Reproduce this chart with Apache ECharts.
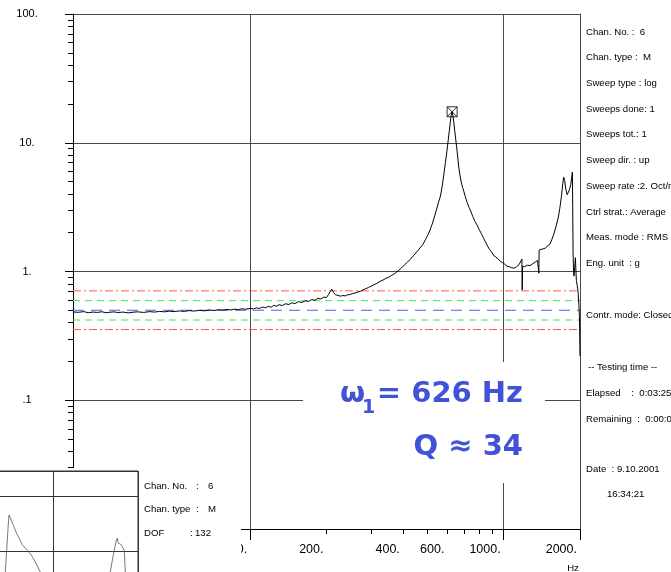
<!DOCTYPE html>
<html>
<head>
<meta charset="utf-8">
<script src="https://cdn.jsdelivr.net/npm/echarts@6/dist/echarts.min.js"></script>
<style>html,body{margin:0;padding:0;background:#fff;}#chart{width:671px;height:572px;}</style>
</head>
<body>
<div id="chart"></div>
<script>
// ---------------- data ----------------
const FREQ_HZ = [20,21,22,23,24,25,26,27,28,29,30,31.5,33,34.5,36,38,40,42,44,46,48,50,52.5,55,57.5,60,63,66,69,72,75,78,81,84,87,90,93,96,100,103,106,109,112,115,118,121,124,127,130,134,138,142,146,150,155,160,165,170,175,180,185,190,195,200,204,207,210,213,217,222,227,232,237,242,248,254,260,266,272,279,286,293,300,308,316,325,334,343,352,362,372,383,394,405,417,429,441,454,467,480,492,503,514,524,534,544,553,563,572,580,589,597,604,610,616,621,626,631,636,641,646,652,658,664,672,680,688,696,706,718,730,741,755,770,785,800,815,830,847,863,880,896,913,930,950,970,990,1010,1030,1050,1075,1100,1125,1150,1170,1180,1183,1188,1210,1240,1270,1300,1330,1360,1372,1376,1380,1400,1430,1460,1490,1520,1550,1580,1610,1640,1665,1690,1710,1725,1740,1760,1780,1800,1820,1840,1855,1866,1872,1878,1884,1892,1900,1910,1918,1926,1935,1950,1965,1980,1990,2000];
const RESPONSE_G = [0.485,0.482,0.488,0.479,0.484,0.481,0.487,0.478,0.483,0.486,0.480,0.484,0.477,0.483,0.486,0.481,0.488,0.484,0.490,0.486,0.492,0.488,0.494,0.490,0.497,0.493,0.499,0.495,0.502,0.498,0.505,0.501,0.507,0.503,0.510,0.506,0.513,0.509,0.517,0.512,0.522,0.516,0.530,0.522,0.536,0.528,0.546,0.537,0.552,0.544,0.562,0.553,0.572,0.563,0.583,0.575,0.594,0.585,0.606,0.597,0.619,0.612,0.632,0.628,0.665,0.700,0.728,0.690,0.660,0.652,0.643,0.651,0.646,0.659,0.662,0.676,0.681,0.694,0.700,0.722,0.735,0.752,0.768,0.790,0.808,0.838,0.858,0.885,0.902,0.935,0.965,1.01,1.06,1.12,1.18,1.25,1.33,1.42,1.52,1.62,1.78,1.93,2.14,2.38,2.70,3.05,3.45,3.85,4.60,5.60,7.0,8.6,10.4,12.3,14.6,16.4,17.4,16.2,14.3,12.4,10.9,9.3,7.9,6.6,5.6,4.95,4.50,4.20,3.80,3.42,3.15,2.95,2.68,2.45,2.30,2.12,1.98,1.84,1.70,1.58,1.48,1.42,1.33,1.30,1.25,1.20,1.17,1.14,1.10,1.09,1.07,1.06,1.09,1.13,1.17,1.25,0.72,1.10,1.09,1.12,1.11,1.15,1.18,1.22,1.22,0.97,1.47,1.46,1.50,1.52,1.58,1.62,1.78,1.98,2.25,2.60,3.10,3.85,4.80,5.40,5.10,4.30,3.95,4.05,4.35,4.75,5.40,5.90,3.20,1.40,1.08,0.92,0.98,1.15,1.28,1.05,0.85,0.78,0.70,0.55,0.45,0.22];
const PEAK_FREQ_HZ = [626];
const PEAK_G = [17.4];
// abort +, alarm +, reference, alarm -, abort -
const LIMIT_LEVELS = [0.707, 0.594, 0.5, 0.42, 0.354];
const X_RANGE = [20, 2000];
const Y_RANGE = [0.01, 100];
const X_LABEL_VALUES = [100, 200, 400, 600, 1000, 2000];
const X_LABELS = ['100.', '200.', '400.', '600.', '1000.', '2000.'];
const X_MAJOR_TICKS = [100, 1000, 2000];
const X_MINOR_TICKS = [30,40,50,60,70,80,90,200,300,400,500,600,700,800,900];
const Y_LABEL_VALUES = [0.01, 0.1, 1, 10, 100];
const Y_LABELS = ['.01', '.1', '1.', '10.', '100.'];
const Y_MINOR_TICKS = [0.02,0.03,0.04,0.05,0.06,0.07,0.08,0.09,0.2,0.3,0.4,0.5,0.6,0.7,0.8,0.9,2,3,4,5,6,7,8,9,20,30,40,50,60,70,80,90];
// small inset plot (bottom-left)
const INSET_X = [0.40,0.439,0.470,0.482,0.498,0.533,0.556,0.580,0.603,0.639,0.674,0.698,0.745,0.792,0.851,0.91,1.2,1.5,1.651,1.674,1.709,1.745,1.756,1.765,1.78,1.803,1.839,1.85,1.856];
const INSET_Y = [0,6.22,14,16.65,16.1,14.8,13.9,13.0,12.4,11.2,10.6,10.2,9.3,8.05,6.22,3.8,1,1,3.8,6.22,9.3,12.0,12.4,11.6,11.9,11.2,10.1,6.22,1.1];
const INSET_X_RANGE = [0, 2];
const INSET_Y_RANGE = [0, 24.7];
const PANEL_LINES = ['Chan. No. :  6', 'Chan. type :  M', 'Sweep type : log', 'Sweeps done: 1', 'Sweeps tot.: 1', 'Sweep dir. : up', 'Sweep rate :2. Oct/min', 'Ctrl strat.: Average', 'Meas. mode : RMS', 'Eng. unit  : g'];
const PANEL_MODE = 'Contr. mode: Closed loop';
const PANEL_TIME = ['-- Testing time --', 'Elapsed    :  0:03:25', 'Remaining  :  0:00:00'];
const PANEL_DATE = ['Date  : 9.10.2001', '16:34:21'];
const INSET_INFO = [['Chan. No.', ':', '6'], ['Chan. type', ':', 'M'], ['DOF', ':', '132']];
const RESULT_FREQ = '= 626 Hz';
const RESULT_Q = 'Q \u2248 34';

// ---------------- chart ----------------
const LG = Math.log10;
const SANS = '"Liberation Sans", Arial, sans-serif';
const SMALL = '9.6px ' + SANS;
const chart = echarts.init(document.getElementById('chart'), null, {renderer: 'canvas'});

const limitStyles = [
  {color: '#ff5a3c', type: [8, 3, 2, 3]},
  {color: '#4ee04e', type: [7, 5]},
  {color: '#4763e6', type: [11, 7]},
  {color: '#4ee04e', type: [7, 5]},
  {color: '#ff5a3c', type: [8, 3, 2, 3]}
];

function nearestLabel(values, labels, v) {
  let best = 0, bd = Infinity;
  values.forEach((t, i) => { const d = Math.abs(LG(t) - v); if (d < bd) { bd = d; best = i; } });
  return labels[best];
}

const hidden = {show: false};
const noLine = {show: false, onZero: false};
function txt(x, y, text, extra) {
  return Object.assign({type: 'text', z: 70, silent: true, x: x, y: y,
    style: Object.assign({text: text, font: SMALL, fill: '#000', textAlign: 'left', textVerticalAlign: 'middle', verticalAlign: 'middle'}, extra || {})});
}
const graphics = [];
// white panels covering parts of the main plot
graphics.push({type: 'rect', z: 50, silent: true, shape: {x: 0, y: 468, width: 241, height: 104}, style: {fill: '#fff'}});
graphics.push({type: 'rect', z: 50, silent: true, shape: {x: 303, y: 362, width: 242, height: 121}, style: {fill: '#fff'}});
// right info panel
PANEL_LINES.forEach((t, i) => graphics.push(txt(586, 32 + i * 25.7, t)));
graphics.push(txt(586, 315, PANEL_MODE));
PANEL_TIME.forEach((t, i) => graphics.push(txt(i === 0 ? 588 : 586, 367 + i * 26, t)));
graphics.push(txt(586, 469, PANEL_DATE[0]));
graphics.push(txt(607, 494, PANEL_DATE[1]));
// inset info
INSET_INFO.forEach((row, i) => {
  const y = 486 + i * 23.5;
  graphics.push(txt(144, y, row[0]));
  graphics.push(txt(i === 2 ? 190 : 196, y, row[1]));
  graphics.push(txt(i === 2 ? 195 : 208, y, row[2]));
});
// Hz unit
graphics.push(txt(573, 568, 'Hz', {textAlign: 'center'}));
// big result text
const BIG = 'bold 29px "DejaVu Sans", sans-serif';
const BLUE = '#4152d6';
graphics.push(txt(340, 394, '\u03c9', {font: BIG, fill: BLUE}));
graphics.push(txt(362, 408, '1', {font: 'bold 19px "DejaVu Sans", sans-serif', fill: BLUE}));
graphics.push(txt(523, 394, RESULT_FREQ, {font: BIG, fill: BLUE, textAlign: 'right'}));
graphics.push(txt(523, 447, RESULT_Q, {font: BIG, fill: BLUE, textAlign: 'right'}));

const series = [];
LIMIT_LEVELS.forEach((lvl, i) => series.push({
  type: 'line', xAxisIndex: 0, yAxisIndex: 0, silent: true, symbol: 'none', z: 2,
  data: [[X_RANGE[0], lvl], [X_RANGE[1], lvl]],
  lineStyle: {color: limitStyles[i].color, type: limitStyles[i].type, width: 1}
}));
series.push({
  type: 'line', xAxisIndex: 0, yAxisIndex: 0, silent: true, symbol: 'none', z: 4,
  data: FREQ_HZ.map((f, i) => [f, RESPONSE_G[i]]),
  lineStyle: {color: '#000', width: 1}
});
series.push({
  type: 'scatter', xAxisIndex: 0, yAxisIndex: 0, silent: true, z: 5,
  symbol: 'path://M0 0H10V10H0Z M0 0L10 10 M10 0L0 10', symbolSize: 10,
  itemStyle: {color: 'rgba(0,0,0,0)', borderColor: '#000', borderWidth: 1},
  data: PEAK_FREQ_HZ.map((f, i) => [f, PEAK_G[i]])
});
series.push({
  type: 'line', xAxisIndex: 3, yAxisIndex: 4, silent: true, symbol: 'none', z: 61,
  data: INSET_X.map((x, i) => [x, INSET_Y[i]]),
  lineStyle: {color: '#555', width: 0.8}
});

const option = {
  animation: false,
  backgroundColor: '#fff',
  grid: [
    {left: 73, top: 14, width: 507, height: 515, containLabel: false, outerBoundsMode: 'none'},
    {left: -32, top: 471, width: 170, height: 135, containLabel: false, outerBoundsMode: 'none', show: true, borderColor: '#333', borderWidth: 1, backgroundColor: 'transparent', z: 60}
  ],
  xAxis: [
    {type: 'log', logBase: 10, gridIndex: 0, position: 'bottom', min: X_RANGE[0], max: X_RANGE[1],
      axisLine: {show: true, onZero: false, lineStyle: {color: '#000', width: 1}}, axisTick: hidden, axisLabel: hidden,
      splitLine: {show: true, lineStyle: {color: '#4a4a4a', width: 1}}},
    {type: 'value', gridIndex: 0, position: 'bottom', offset: 0, min: LG(X_RANGE[0]), max: LG(X_RANGE[1]),
      axisLine: noLine, splitLine: hidden, axisLabel: hidden,
      axisTick: {show: true, length: 11, customValues: X_MAJOR_TICKS.map(LG), lineStyle: {color: '#000'}}},
    {type: 'value', gridIndex: 0, position: 'bottom', offset: 0, min: LG(X_RANGE[0]), max: LG(X_RANGE[1]),
      axisLine: noLine, splitLine: hidden,
      axisTick: {show: true, length: 5, customValues: X_MINOR_TICKS.map(LG), lineStyle: {color: '#000'}},
      axisLabel: {show: true, customValues: X_LABEL_VALUES.map(LG), margin: 14, align: 'right', padding: [0, 3, 0, 0],
        fontSize: 12.5, fontFamily: SANS, color: '#000',
        formatter: v => nearestLabel(X_LABEL_VALUES, X_LABELS, v)}},
    {type: 'value', gridIndex: 1, position: 'bottom', min: INSET_X_RANGE[0], max: INSET_X_RANGE[1], interval: 1, z: 60,
      axisLine: noLine, axisTick: hidden, axisLabel: hidden,
      splitLine: {show: true, lineStyle: {color: '#333', width: 1}}}
  ],
  yAxis: [
    {type: 'log', logBase: 10, gridIndex: 0, position: 'left', min: Y_RANGE[0], max: Y_RANGE[1],
      axisLine: {show: true, onZero: false, lineStyle: {color: '#000', width: 1}}, axisTick: hidden,
      axisLabel: {show: true, align: 'center', margin: 46, fontSize: 11, fontFamily: SANS, color: '#000',
        formatter: v => nearestLabel(Y_LABEL_VALUES, Y_LABELS, LG(v))},
      splitLine: {show: true, lineStyle: {color: '#4a4a4a', width: 1}}},
    {type: 'value', gridIndex: 0, position: 'left', offset: 0, min: LG(Y_RANGE[0]), max: LG(Y_RANGE[1]), interval: 1,
      axisLine: noLine, splitLine: hidden, axisLabel: hidden,
      axisTick: {show: true, length: 8, lineStyle: {color: '#000'}}},
    {type: 'value', gridIndex: 0, position: 'left', offset: 0, min: LG(Y_RANGE[0]), max: LG(Y_RANGE[1]),
      axisLine: noLine, splitLine: hidden, axisLabel: hidden,
      axisTick: {show: true, length: 5, customValues: Y_MINOR_TICKS.map(LG), lineStyle: {color: '#000'}}},
    {type: 'value', gridIndex: 0, position: 'right', offset: 0, min: LG(Y_RANGE[0]), max: LG(Y_RANGE[1]),
      axisLine: {show: true, onZero: false, lineStyle: {color: '#4a4a4a', width: 1}}, splitLine: hidden, axisLabel: hidden, axisTick: hidden},
    {type: 'value', gridIndex: 1, position: 'left', min: INSET_Y_RANGE[0], max: INSET_Y_RANGE[1], interval: 10, z: 60,
      axisLine: noLine, axisTick: hidden, axisLabel: hidden,
      splitLine: {show: true, lineStyle: {color: '#333', width: 1}}}
  ],
  graphic: graphics,
  series: series
};
chart.setOption(option);
</script>
</body>
</html>
